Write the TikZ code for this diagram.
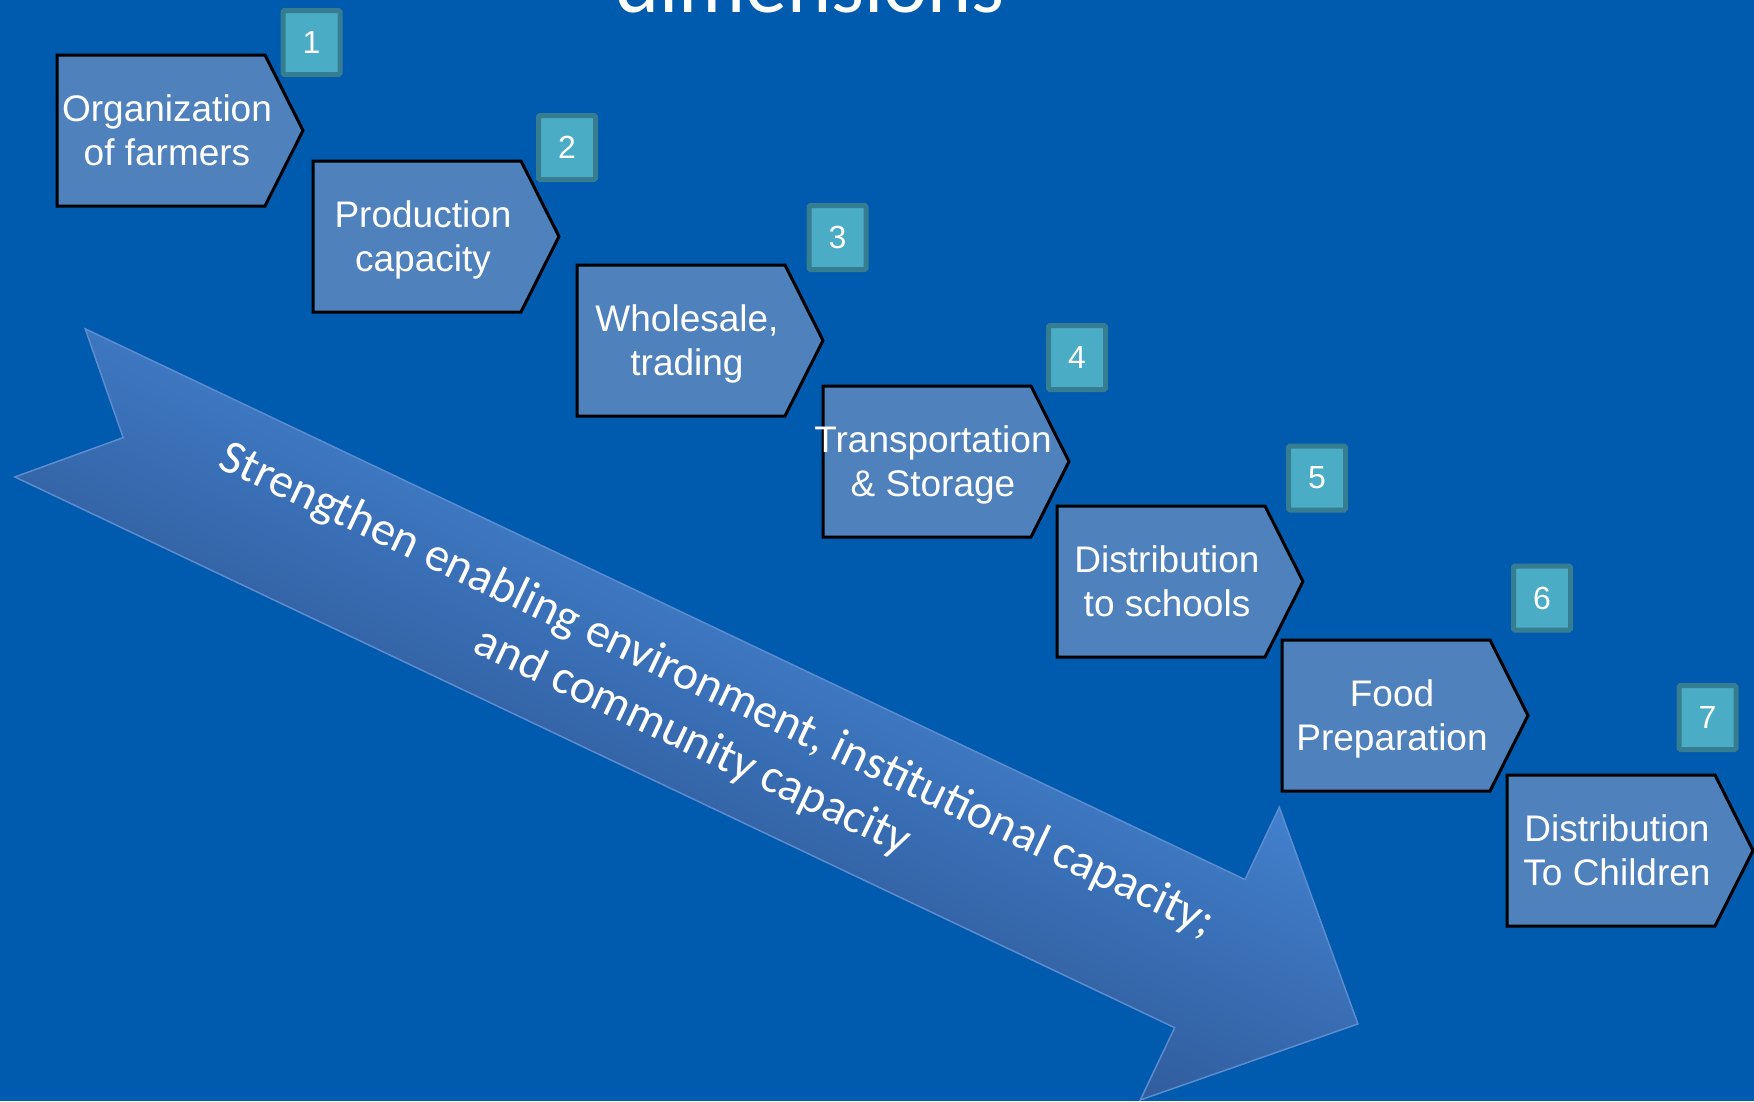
\documentclass[tikz,border=0pt]{standalone}
\usepackage{fontspec}
\setmainfont{Liberation Sans}
\newfontfamily\calfont{Carlito}
\definecolor{bgblue}{RGB}{0,90,174}
\definecolor{chevfill}{RGB}{79,129,189}
\definecolor{numfill}{RGB}{75,172,198}
\definecolor{numline}{RGB}{55,125,146}
\definecolor{arrtop}{RGB}{66,128,205}
\definecolor{arrbot}{RGB}{48,92,156}
\definecolor{arrline}{RGB}{92,140,206}
\newcommand\lstrut{\rule[-9pt]{0pt}{35pt}}
\tikzset{
  chevbox/.style={draw=black, line width=3pt, fill=chevfill},
  chevtext/.style={text=white, align=center, inner sep=0pt,
    font=\fontsize{37}{44}\selectfont},
  numbox/.style={draw=numline, fill=numfill, line width=5pt, rounded corners=1.5pt,
    minimum width=57pt, minimum height=64pt, inner sep=0pt, text=white,
    font=\fontsize{32}{38}\selectfont},
  arrowshape/.style={draw=arrline, line width=1.5pt, top color=arrtop, bottom color=arrbot},
  arrowtext/.style={text=white, anchor=base, inner sep=0pt,
    font=\calfont\fontsize{48}{57}\selectfont}
}
\newcommand\chev[5]{%
  \draw[chevbox] (#2,#3) -- ++(208,0) -- ++(38,75.5) -- ++(-38,75.5) -- ++(-208,0) -- cycle;
  \node[chevtext] (#1) at (#2+110,#3+80) {\lstrut #4\\\lstrut #5};
}
\begin{document}
\begin{tikzpicture}[x=1pt,y=-1pt]
\useasboundingbox (0,0) rectangle (1754,1101);
\clip (0,0) rectangle (1754,1101);
\fill[bgblue] (0,0) rectangle (1754,1101);

% title (cut off at top)
\node[anchor=base, text=white, inner sep=0pt, font=\calfont\fontsize{84}{100}\selectfont] (title) at (810,12) {dimensions};

% big arrow, drawn in its own rotated frame
\begin{scope}[transform canvas={rotate=-25.4}]
  \path[arrowshape] (218,260.5) -- (1502,260.5) -- (1502,180.5) -- (1666,342.5)
     -- (1502,504.5) -- (1502,424.5) -- (218,424.5) -- (299,342.5) -- cycle;
  \node[arrowtext] (t1) at (944,329) {Strengthen enabling environment, institutional capacity;};
  \node[arrowtext] (t2) at (944,386) {and community capacity};
\end{scope}

% chevrons
\chev{b1}{57}{55}{Organization}{of farmers}
\chev{b2}{313}{161}{Production}{capacity}
\chev{b3}{577}{265}{Wholesale,}{trading}
\chev{b4}{823}{386}{Transportation}{\& Storage}
\chev{b5}{1057}{506}{Distribution}{to schools}
\chev{b6}{1282}{640}{Food}{Preparation}
\chev{b7}{1507}{775}{Distribution}{To Children}

% number tags
\node[numbox] (n1) at (311.5,42.5) {1};
\node[numbox] (n2) at (567,147.5) {2};
\node[numbox] (n3) at (837.5,237.5) {3};
\node[numbox] (n4) at (1077,357.5) {4};
\node[numbox] (n5) at (1317,478) {5};
\node[numbox] (n6) at (1542,598) {6};
\node[numbox] (n7) at (1707.5,717.5) {7};
\end{tikzpicture}
\end{document}
